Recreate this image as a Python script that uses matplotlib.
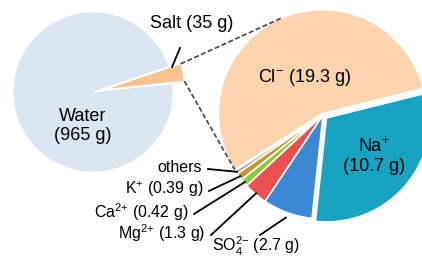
import matplotlib.pyplot as plt
import numpy as np

plt.rcParams['font.family'] = ['Liberation Sans', 'DejaVu Sans']
plt.rcParams['mathtext.fontset'] = 'custom'
plt.rcParams['mathtext.rm'] = 'Liberation Sans'
plt.rcParams['mathtext.default'] = 'regular'

# seawater, 1 kg
outer_labels = ['Salt', 'Water']
outer_values = [35, 965]
outer_colors = ['#f9c28e', '#dae6f2']

ions = ['Cl-', 'others', 'K+', 'Ca2+', 'Mg2+', 'SO4 2-', 'Na+']
ion_values = [19.3, 0.19, 0.39, 0.42, 1.3, 2.7, 10.7]
ion_colors = ['#fcd5ae', '#a89a7c', '#c6962e', '#8dc641', '#e9504f', '#3b88d4', '#17a3c2']
ion_texts = ['Cl$^{-}$ (19.3 g)', 'others', 'K$^{+}$ (0.39 g)', 'Ca$^{2{+}}$ (0.42 g)',
             'Mg$^{2{+}}$ (1.3 g)', 'SO$_4^{2{-}}$ (2.7 g)', 'Na$^{+}$\n(10.7 g)']

W, H = 422, 257


def P(x, y):
    # picture pixel -> data coords
    return x, H - y


fig = plt.figure(figsize=(4.22, 2.57), dpi=100)
ax = fig.add_axes([0, 0, 1, 1])

# explode is in data units here (pixels)
c1 = P(93, 92)
r1 = 80
w1, _ = ax.pie(outer_values, center=c1, radius=r1, startangle=6, explode=[12, 0],
               colors=outer_colors, frame=True,
               wedgeprops=dict(edgecolor='white', linewidth=0.6))

c2 = P(323, 115)
r2 = 104
w2, _ = ax.pie(ion_values, center=c2, radius=r2, startangle=14,
               explode=[1.5, 0, 0, 0, 0, 0, 4.5], colors=ion_colors, frame=True,
               wedgeprops=dict(edgecolor='white', linewidth=1.2))


def edge_pt(w, ang, f=1.0):
    a = np.deg2rad(ang)
    cx, cy = w.center
    return cx + f * w.r * np.cos(a), cy + f * w.r * np.sin(a)


# dashed connectors salt -> ion pie
salt = w1[0]
for a_s, a_t in [(salt.theta2, 113), (salt.theta1, w2[0].theta2)]:
    x0, y0 = edge_pt(salt, a_s)
    x1, y1 = edge_pt(w2[0], a_t)
    ax.plot([x0, x1], [y0, y1], ls=(0, (3, 1.5)), color='#444444', lw=1.2)

fs = 13
fs2 = 11.5
ax.text(*P(192, 24), 'Salt (35 g)', ha='center', va='center', fontsize=fs)
ax.plot(*zip(P(180, 48), P(172, 67)), color='black', lw=1.3)
ax.text(*P(83, 126), 'Water\n(965 g)', ha='center', va='center', fontsize=fs,
        linespacing=1.2)
ax.text(*P(304, 78), ion_texts[0], ha='center', va='center', fontsize=fs)
ax.text(*P(374, 156), ion_texts[6], ha='center', va='center', fontsize=fs,
        linespacing=1.2)

# small ion labels with leader lines
small_pos = [(202, 167), (203, 189), (188, 212), (205, 233)]
for i, (tx, ty) in zip(range(1, 5), small_pos):
    ax.text(*P(tx, ty), ion_texts[i], ha='right', va='center', fontsize=fs2)
    w = w2[i]
    ex, ey = edge_pt(w, (w.theta1 + w.theta2) / 2, 0.99)
    sx, sy = P(tx + 6, ty + 2)
    ax.plot([sx, ex], [sy, ey], color='black', lw=1.3)

w = w2[5]
ax.text(*P(212, 246), ion_texts[5], ha='left', va='center', fontsize=fs2)
ex, ey = edge_pt(w, (w.theta1 + w.theta2) / 2, 1.05)
sx, sy = P(260, 235)
ax.plot([sx, ex], [sy, ey], color='black', lw=1.3)

ax.set_xlim(0, W)
ax.set_ylim(0, H)
ax.set_aspect('equal')
ax.axis('off')
fig.savefig('out.png', dpi=100)
